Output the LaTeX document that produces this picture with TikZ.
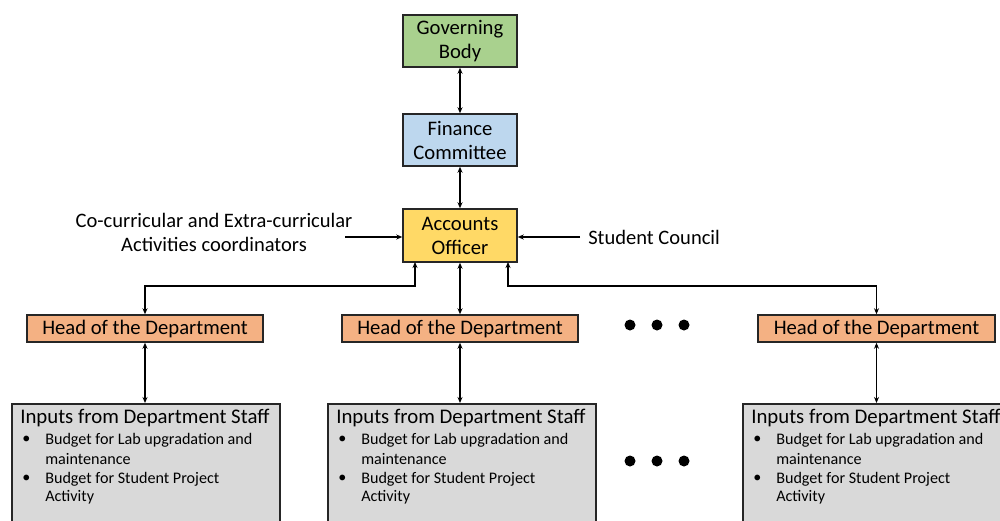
\documentclass[tikz,border=0pt]{standalone}
\usepackage{fontspec}
\setmainfont{Carlito}
\usetikzlibrary{arrows.meta}
\definecolor{gbgreen}{HTML}{A9D18E}
\definecolor{fcblue}{HTML}{BDD7EE}
\definecolor{aoyellow}{HTML}{FFD966}
\definecolor{hodorange}{HTML}{F4B183}
\definecolor{inpgrey}{HTML}{D9D9D9}
\tikzset{
  box/.style={draw=black!85, line width=1.125pt, inner sep=0pt, align=center, font=\fontsize{15.5}{18}\selectfont},
  conn/.style={line width=0.9pt, {Stealth[length=4.5pt,width=3.75pt]}-{Stealth[length=4.5pt,width=3.75pt]}},
  oneway/.style={line width=0.9pt, -{Stealth[length=4.5pt,width=3.75pt]}},
  lbl/.style={align=center, font=\fontsize{15.4}{18}\selectfont, inner sep=0pt},
  ttl/.style={anchor=west, font=\fontsize{15.6}{18}\selectfont, inner sep=0pt},
  itm/.style={anchor=west, font=\fontsize{12.1}{14}\selectfont, inner sep=0pt},
  dot/.style={circle, fill=black, inner sep=0pt, minimum size=8.25pt},
  inbox/.style={draw=black!85, line width=1.125pt, fill=inpgrey, minimum width=201pt, minimum height=105pt, inner sep=0pt, anchor=north west}
}
\begin{document}
\begin{tikzpicture}[x=0.75pt,y=-0.75pt]
\path[use as bounding box, clip] (0,0) rectangle (1000,521);
% top chain
\node[box, fill=gbgreen, minimum width=85.5pt, minimum height=39pt] (gb) at (460,41) {Governing\\Body};
\node[box, fill=fcblue, minimum width=85.5pt, minimum height=39pt] (fc) at (460,140) {Finance\\Committee};
\node[box, fill=aoyellow, minimum width=85.5pt, minimum height=39.75pt] (ao) at (460,235.5) {Accounts\\Officer};
\draw[conn] (gb) -- (fc);
\draw[conn] (fc) -- (ao);
% side inputs
\node[lbl] (cc) at (214,232) {Co-curricular and Extra-curricular\\Activities coordinators};
\coordinate (ccend) at (345,237);
\draw[oneway] (ccend) -- (ao.west |- ccend);
\node[lbl, anchor=west] (sc) at (588,237) {Student Council};
\coordinate (scend) at (580,237);
\draw[oneway] (scend) -- (ao.east |- scend);
% heads
\node[box, fill=hodorange, minimum width=177pt, minimum height=20.25pt] (h1) at (145,328.5) {Head of the Department};
\node[box, fill=hodorange, minimum width=177pt, minimum height=20.25pt] (h2) at (460,328.5) {Head of the Department};
\node[box, fill=hodorange, minimum width=177.75pt, minimum height=20.25pt] (h3) at (876.5,328.5) {Head of the Department};
\coordinate (aol) at (415,262);
\coordinate (aor) at (508,262);
\draw[conn] (aol) -- (415,286) -| (h1.north);
\draw[conn] (ao) -- (h2);
\draw[conn] (aor) -- (508,286) -| (h3.north);
% input boxes
\node[inbox] (i1) at (11,403) {};
\node[inbox] (i2) at (327,403) {};
\node[inbox] (i3) at (742,403) {};
\draw[conn] (h1) -- (h1 |- i1.north);
\draw[conn] (h2) -- (h2 |- i2.north);
\draw[conn] (h3) -- (h3 |- i3.north);
\foreach \b/\x in {i1/11, i2/327, i3/742}{
  \node[ttl] (\b t) at (\x+9,418) {Inputs from Department Staff};
  \node[itm] (\b ba) at (\x+11,440) {•};
  \node[itm] (\b a1) at (\x+34,440) {Budget for Lab upgradation and};
  \node[itm] (\b a2) at (\x+34,459) {maintenance};
  \node[itm] (\b bb) at (\x+11,479) {•};
  \node[itm] (\b b1) at (\x+34,479) {Budget for Student Project};
  \node[itm] (\b b2) at (\x+34,497) {Activity};
}
% ellipsis dots
\node[dot] (d1) at (630,325) {};
\node[dot] (d2) at (657,325) {};
\node[dot] (d3) at (684,325) {};
\node[dot] (d4) at (630,461) {};
\node[dot] (d5) at (657,461) {};
\node[dot] (d6) at (684,461) {};
\end{tikzpicture}
\end{document}
